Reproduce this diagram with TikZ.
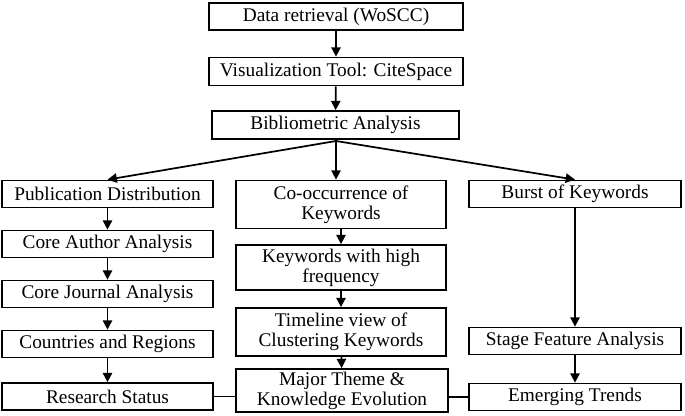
\documentclass[tikz,border=0pt]{standalone}
\usepackage{fontspec}
\setmainfont{Liberation Serif}
\usetikzlibrary{arrows.meta}
\begin{document}
\begin{tikzpicture}[x=0.75pt,y=-0.75pt,
 box/.style={draw,line width=1.3pt,inner sep=0pt,font=\fontsize{14.5}{15}\selectfont,align=center},
 arr/.style={line width=1.3pt,-{Triangle[length=7pt,width=7pt]}},
 ln/.style={line width=1.3pt}]
\useasboundingbox (0,0) rectangle (685,415);
\node[box,minimum width=190.5pt,minimum height=20.25pt] (a) at (336,16.5) {Data retrieval (WoSCC)};
\node[box,minimum width=190.5pt,minimum height=21pt] (b) at (336,71.5) {Visualization Tool: CiteSpace};
\node[box,minimum width=185.25pt,minimum height=21pt] (c) at (335.5,125) {Bibliometric Analysis};
\node[box,minimum width=158.25pt,minimum height=20.25pt] (p1) at (107.5,194) {Publication Distribution};
\node[box,minimum width=158.25pt,minimum height=20.25pt] (p2) at (107.5,244) {Core Author Analysis};
\node[box,minimum width=158.25pt,minimum height=20.25pt] (p3) at (107.5,294) {Core Journal Analysis};
\node[box,minimum width=158.25pt,minimum height=20.25pt] (p4) at (107.5,344) {Countries and Regions};
\node[box,minimum width=158.25pt,minimum height=20.25pt] (p5) at (107.5,396.5) {Research Status};
\node[box,minimum width=157.5pt,minimum height=36pt] (k1) at (341,204.5) {Co-occurrence of\\Keywords};
\node[box,minimum width=157.5pt,minimum height=33.75pt] (k2) at (341,267.5) {Keywords with high\\frequency};
\node[box,minimum width=157.5pt,minimum height=36pt] (k3) at (341,332) {Timeline view of\\Clustering Keywords};
\node[box,minimum width=159pt,minimum height=32.25pt] (k4) at (342,390.5) {Major Theme \&\\Knowledge Evolution};
\node[box,minimum width=159pt,minimum height=20.25pt] (r1) at (575,194) {Burst of Keywords};
\node[box,minimum width=159pt,minimum height=20.25pt] (r2) at (575,341) {Stage Feature Analysis};
\node[box,minimum width=159pt,minimum height=20.25pt] (r3) at (575,397) {Emerging Trends};
\coordinate (s) at (336,141);
\draw[arr] (a) -- (b);
\draw[arr] (b) -- (c);
\draw[ln] (c.south) -- (s);
\draw[arr] (s) -- (p1.north);
\draw[arr] (s) -- (k1.north -| s);
\draw[arr] (s) -- (r1.north);
\draw[arr] (p1) -- (p2);
\draw[arr] (p2) -- (p3);
\draw[arr] (p3) -- (p4);
\draw[arr] (p4) -- (p5);
\draw[arr] (k1) -- (k2);
\draw[arr] (k2) -- (k3);
\draw[arr] (k3) -- (k4);
\draw[arr] (r1) -- (r2);
\draw[arr] (r2) -- (r3);
\draw[ln] (p5.east) -- (p5.east -| k4.west);
\draw[ln] (r3.west -| k4.east) -- (r3.west);
\end{tikzpicture}
\end{document}
